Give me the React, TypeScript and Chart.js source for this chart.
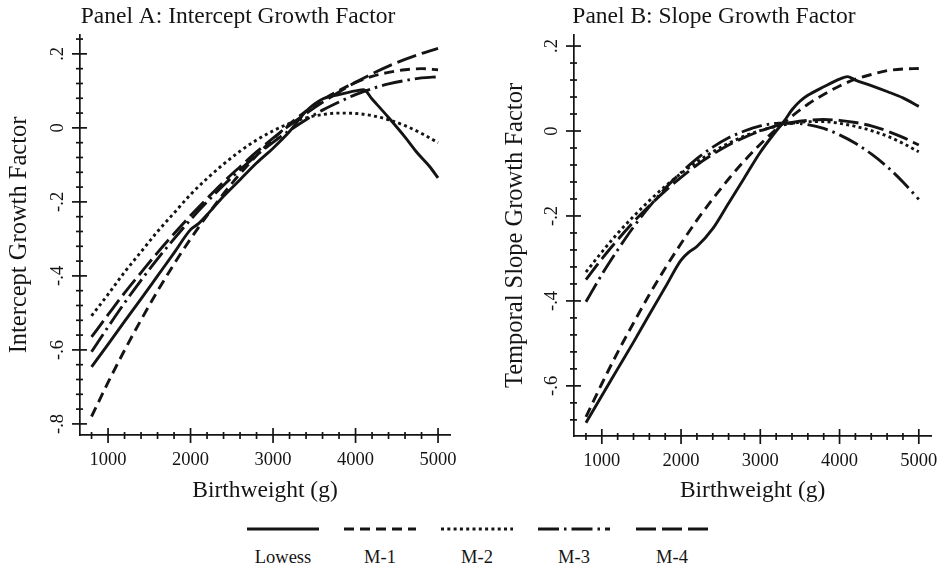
import React, { useEffect, useRef } from 'react';
import { Chart, registerables } from 'chart.js';

Chart.register(...registerables);

const FONT = "'Liberation Serif', 'Times New Roman', serif";
const INK = '#141414';

// ---------- data ----------
const birthweight = [800, 1000, 1200, 1400, 1600, 1800, 2000, 2200, 2400, 2600, 2800, 3000, 3200, 3400, 3600, 3800, 4000, 4200, 4400, 4600, 4800, 5000];

// Panel A: Intercept growth factor
const lowessA_x = [800, 1000, 1200, 1400, 1600, 1800, 2000, 2100, 2200, 2400, 2600, 2800, 3000, 3200, 3400, 3600, 3800, 4000, 4100, 4200, 4400, 4600, 4750, 4900, 5000];
const lowessA_y = [-0.646, -0.585, -0.523, -0.462, -0.40, -0.338, -0.275, -0.258, -0.235, -0.185, -0.14, -0.095, -0.055, -0.01, 0.045, 0.078, 0.09, 0.10, 0.103, 0.078, 0.028, -0.025, -0.068, -0.105, -0.135];
const m1A = [-0.78, -0.688, -0.601, -0.519, -0.441, -0.368, -0.300, -0.237, -0.178, -0.124, -0.075, -0.03, 0.010, 0.045, 0.076, 0.101, 0.123, 0.139, 0.150, 0.157, 0.160, 0.157];
const m2A = [-0.508, -0.45, -0.39, -0.335, -0.28, -0.23, -0.18, -0.137, -0.098, -0.063, -0.033, -0.008, 0.012, 0.027, 0.036, 0.04, 0.039, 0.033, 0.022, 0.006, -0.015, -0.04];
const m3A = [-0.605, -0.538, -0.473, -0.412, -0.354, -0.300, -0.248, -0.200, -0.155, -0.113, -0.074, -0.039, -0.007, 0.022, 0.048, 0.070, 0.090, 0.106, 0.119, 0.128, 0.135, 0.138];
const m4A = [-0.565, -0.505, -0.446, -0.391, -0.337, -0.286, -0.237, -0.191, -0.146, -0.105, -0.065, -0.028, 0.007, 0.039, 0.069, 0.097, 0.123, 0.146, 0.167, 0.185, 0.201, 0.215];

// Panel B: Slope growth factor
const lowessB_x = [800, 1000, 1200, 1400, 1600, 1800, 2000, 2100, 2200, 2400, 2600, 2800, 3000, 3200, 3300, 3400, 3500, 3600, 3800, 4000, 4100, 4200, 4400, 4600, 4800, 5000];
const lowessB_y = [-0.687, -0.623, -0.56, -0.497, -0.432, -0.368, -0.304, -0.285, -0.272, -0.23, -0.17, -0.11, -0.05, 0.0, 0.023, 0.05, 0.07, 0.084, 0.104, 0.122, 0.128, 0.12, 0.107, 0.093, 0.078, 0.058];
const m1B = [-0.673, -0.595, -0.521, -0.452, -0.385, -0.323, -0.265, -0.210, -0.160, -0.113, -0.070, -0.031, 0.004, 0.035, 0.063, 0.086, 0.106, 0.122, 0.133, 0.142, 0.146, 0.147];
const m2B = [-0.332, -0.285, -0.241, -0.201, -0.164, -0.130, -0.100, -0.073, -0.049, -0.029, -0.012, 0.001, 0.011, 0.018, 0.022, 0.022, 0.018, 0.011, 0.001, -0.012, -0.029, -0.049];
const m3B = [-0.402, -0.338, -0.280, -0.226, -0.178, -0.135, -0.098, -0.065, -0.038, -0.016, 0.000, 0.012, 0.018, 0.019, 0.015, 0.006, -0.009, -0.029, -0.054, -0.084, -0.120, -0.161];
const m4B = [-0.350, -0.301, -0.256, -0.214, -0.176, -0.141, -0.109, -0.080, -0.055, -0.033, -0.015, 0.000, 0.012, 0.020, 0.025, 0.027, 0.025, 0.020, 0.012, 0.000, -0.015, -0.033];

// ---------- ticks / labels ----------
const xTickValues = [800, 1000, 1200, 1400, 1600, 1800, 2000, 2200, 2400, 2600, 2800, 3000, 3200, 3400, 3600, 3800, 4000, 4200, 4400, 4600, 4800, 5000];
const xMajorStep = 1000;
const yMajorStep = 0.2;
const yMinorStep = 0.04;
const seriesNames = ['Lowess', 'M-1', 'M-2', 'M-3', 'M-4'];
const seriesDash: number[][] = [[], [10, 6], [3, 3.3], [21, 5, 2.5, 5], [20, 6]];

function yTicksFor(min: number, max: number): number[] {
  const out: number[] = [];
  for (let k = Math.ceil(min / yMinorStep - 1e-9); k * yMinorStep <= max + 1e-9; k++) {
    out.push(Math.round(k * yMinorStep * 1e6) / 1e6);
  }
  return out;
}
const isYMajor = (v: number) => Math.abs(v / yMajorStep - Math.round(v / yMajorStep)) < 1e-6;
const fmtY = (v: number) => {
  if (!isYMajor(v)) return '';
  if (Math.abs(v) < 1e-9) return '0';
  return (v < 0 ? '-' : '') + Math.abs(v).toFixed(1).replace(/^0/, '');
};

const tickMarks = {
  id: 'tickMarks',
  afterDraw(chart: any) {
    const { ctx, chartArea } = chart;
    const xs = chart.scales.x;
    const ys = chart.scales.y;
    ctx.save();
    ctx.strokeStyle = INK;
    ctx.lineWidth = 1.7;
    ctx.lineCap = 'butt';
    xs.ticks.forEach((t: any) => {
      const px = xs.getPixelForValue(t.value);
      const major = t.value % xMajorStep === 0;
      ctx.beginPath();
      ctx.moveTo(px, chartArea.bottom - (major ? 7 : 3));
      ctx.lineTo(px, chartArea.bottom + (major ? 8 : 4));
      ctx.stroke();
    });
    ys.ticks.forEach((t: any) => {
      const py = ys.getPixelForValue(t.value);
      const major = isYMajor(t.value);
      ctx.beginPath();
      ctx.moveTo(chartArea.left - (major ? 8 : 4), py);
      ctx.lineTo(chartArea.left + (major ? 7 : 3), py);
      ctx.stroke();
    });
    ctx.restore();
  },
};

function buildDatasets(lx: number[], ly: number[], ms: number[][]) {
  const all = [lx.map((x, i) => ({ x, y: ly[i] })), ...ms.map((arr) => birthweight.map((x, i) => ({ x, y: arr[i] })))];
  return all.map((data, i) => ({
    label: seriesNames[i],
    data,
    borderColor: INK,
    borderWidth: 2.9,
    borderDash: seriesDash[i],
    borderCapStyle: 'butt',
    pointRadius: 0,
    fill: false,
    cubicInterpolationMode: 'monotone',
  }));
}

type PanelCfg = {
  title: string;
  yTitle: string;
  datasets: any[];
  xMin: number;
  xMax: number;
  yMin: number;
  yMax: number;
  yAxisWidth: number;
  yTitlePad: number;
  xAxisHeight: number;
  rightPad: number;
};

function makeConfig(p: PanelCfg): any {
  const yTickValues = yTicksFor(p.yMin, p.yMax);
  return {
    type: 'line',
    data: { datasets: p.datasets },
    options: {
      responsive: false,
      animation: false,
      layout: { padding: 0 },
      plugins: {
        legend: { display: false },
        tooltip: { enabled: false },
        title: {
          display: true,
          text: p.title,
          color: INK,
          font: { family: FONT, size: 23.5, weight: 'normal', lineHeight: 1.2 },
          padding: { top: 3, bottom: 3.8 },
        },
      },
      scales: {
        x: {
          type: 'linear',
          min: p.xMin,
          max: p.xMax,
          afterBuildTicks: (s: any) => {
            s.ticks = xTickValues.map((v) => ({ value: v }));
          },
          afterFit: (s: any) => {
            s.height = p.xAxisHeight;
          },
          grid: { display: false, drawTicks: false },
          border: { display: true, color: INK, width: 1.7 },
          ticks: {
            autoSkip: false,
            minRotation: 0,
            maxRotation: 0,
            padding: 14.5,
            color: INK,
            font: { family: FONT, size: 18.5 },
            callback: (v: number) => (v % xMajorStep === 0 ? String(v) : ''),
          },
          title: {
            display: true,
            text: 'Birthweight (g)',
            color: INK,
            font: { family: FONT, size: 23.5, weight: 'normal' },
            padding: { top: 0, bottom: 15 },
          },
        },
        y: {
          type: 'linear',
          position: 'left',
          min: p.yMin,
          max: p.yMax,
          afterBuildTicks: (s: any) => {
            s.ticks = yTickValues.map((v) => ({ value: v }));
          },
          afterFit: (s: any) => {
            s.width = p.yAxisWidth;
          },
          grid: { display: false, drawTicks: false },
          border: { display: true, color: INK, width: 1.7 },
          ticks: {
            autoSkip: false,
            minRotation: 90,
            maxRotation: 90,
            crossAlign: 'center',
            padding: 12,
            color: INK,
            font: { family: FONT, size: 18.5 },
            callback: (v: number) => fmtY(v),
          },
          title: {
            display: true,
            text: p.yTitle,
            color: INK,
            font: { family: FONT, size: 24.5, weight: 'normal' },
            padding: { top: p.yTitlePad, bottom: 0 },
          },
        },
        yPad: {
          type: 'linear',
          position: 'right',
          display: true,
          grid: { display: false, drawTicks: false },
          border: { display: false },
          ticks: { display: false },
          afterFit: (s: any) => {
            s.width = p.rightPad;
          },
        },
      },
    },
    plugins: [tickMarks],
  };
}

const CANVAS_W = 476;
const CANVAS_H = 520;

function Panel({ cfg, left }: { cfg: PanelCfg; left: number }) {
  const ref = useRef<HTMLCanvasElement | null>(null);
  useEffect(() => {
    if (!ref.current) return;
    const chart = new Chart(ref.current, makeConfig(cfg));
    return () => chart.destroy();
  }, []);
  return (
    <div style={{ position: 'absolute', left, top: 0, width: CANVAS_W, height: CANVAS_H }}>
      <canvas ref={ref} width={CANVAS_W} height={CANVAS_H} style={{ display: 'block' }} />
    </div>
  );
}

const legendCenters = [283, 380, 477, 574, 672];

export default function App() {
  const panelA: PanelCfg = {
    title: 'Panel A: Intercept Growth Factor',
    yTitle: 'Intercept Growth Factor',
    datasets: buildDatasets(lowessA_x, lowessA_y, [m1A, m2A, m3A, m4A]),
    xMin: 660,
    xMax: 5145,
    yMin: -0.83,
    yMax: 0.251,
    yAxisWidth: 80,
    yTitlePad: 5.3,
    xAxisHeight: 85,
    rightPad: 26,
  };
  const panelB: PanelCfg = {
    title: 'Panel B: Slope Growth Factor',
    yTitle: 'Temporal Slope Growth Factor',
    datasets: buildDatasets(lowessB_x, lowessB_y, [m1B, m2B, m3B, m4B]),
    xMin: 649,
    xMax: 5158,
    yMin: -0.718,
    yMax: 0.226,
    yAxisWidth: 98,
    yTitlePad: 25.3,
    xAxisHeight: 84,
    rightPad: 6,
  };
  return (
    <div style={{ position: 'fixed', left: 0, top: 0, width: 952, height: 567, background: '#fff', overflow: 'hidden' }}>
      <Panel cfg={panelA} left={0} />
      <Panel cfg={panelB} left={476} />
      {seriesNames.map((name, i) => (
        <React.Fragment key={name}>
          <svg
            width={72}
            height={6}
            style={{ position: 'absolute', left: legendCenters[i] - 36, top: 526 }}
          >
            <line
              x1={0}
              y1={3}
              x2={72}
              y2={3}
              stroke={INK}
              strokeWidth={2.9}
              strokeDasharray={seriesDash[i].length ? seriesDash[i].join(' ') : undefined}
            />
          </svg>
          <div
            style={{
              position: 'absolute',
              left: legendCenters[i] - 50,
              top: 546,
              width: 100,
              textAlign: 'center',
              fontFamily: FONT,
              fontSize: 18.5,
              lineHeight: '22px',
              color: INK,
            }}
          >
            {name}
          </div>
        </React.Fragment>
      ))}
    </div>
  );
}
